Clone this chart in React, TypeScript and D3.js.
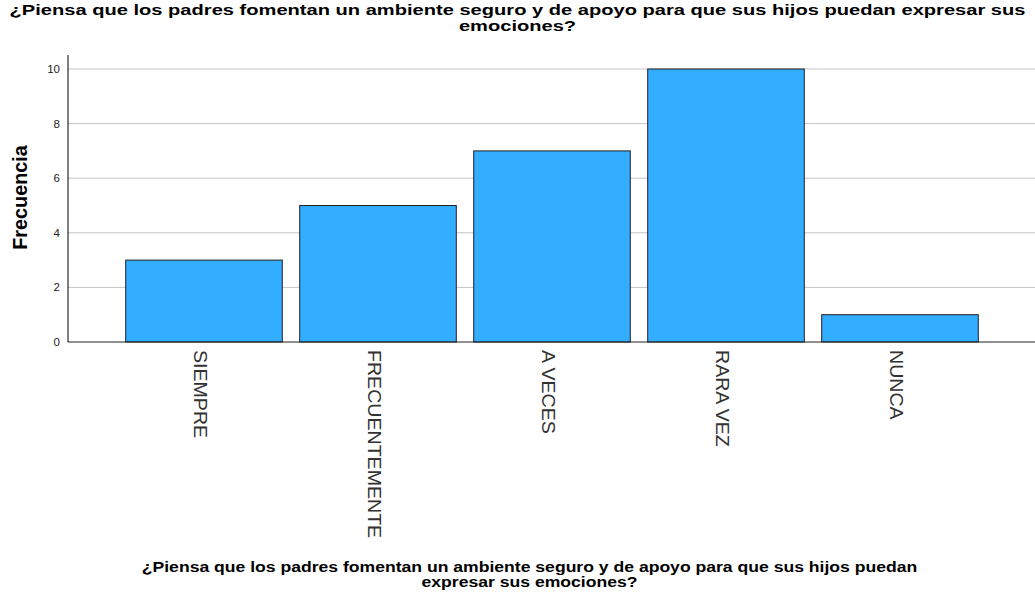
import React from "react";
import * as d3 from "d3";

const categories = ["SIEMPRE", "FRECUENTEMENTE", "A VECES", "RARA VEZ", "NUNCA"];
const values = [3, 5, 7, 10, 1];
const yTicks = [0, 2, 4, 6, 8, 10];
const titleLines = [
  "¿Piensa que los padres fomentan un ambiente seguro y de apoyo para que sus hijos puedan expresar sus",
  "emociones?",
];
const xTitleLines = [
  "¿Piensa que los padres fomentan un ambiente seguro y de apoyo para que sus hijos puedan",
  "expresar sus emociones?",
];
const yTitle = "Frecuencia";

const W = 1035;
const H = 598;

export default function App() {
  const x = d3.scaleBand<string>().domain(categories).range([117, 987]).paddingInner(0.1).paddingOuter(0.05);
  const y = d3.scaleLinear().domain([0, 10]).range([342, 69]);
  const axisLeft = 68;
  const font = "'Liberation Sans', Arial, sans-serif";
  const titleSX = 1.386;
  return (
    <svg width={W} height={H} style={{ position: "absolute", left: 0, top: 0, background: "#fff" }} fontFamily={font}>
      <rect x={0} y={0} width={W} height={H} fill="#fff" />
      {titleLines.map((t, i) => (
        <text
          key={i}
          transform={`translate(517.5,${15 + i * 16}) scale(${titleSX},1)`}
          textAnchor="middle"
          fontSize={14.5}
          fontWeight="bold"
          fill="#000"
        >
          {t}
        </text>
      ))}
      {yTicks.map((t) => (
        <g key={t}>
          {t > 0 && <line x1={axisLeft} x2={W} y1={y(t)} y2={y(t)} stroke="#c4c4c4" strokeWidth={1} />}
          <text x={axisLeft - 8} y={y(t) + 4} textAnchor="end" fontSize={11.5} fill="#222">
            {t}
          </text>
        </g>
      ))}
      {categories.map((c, i) => (
        <rect
          key={c}
          x={x(c)}
          y={y(values[i])}
          width={x.bandwidth()}
          height={y(0) - y(values[i])}
          fill="#33adff"
          stroke="#222"
          strokeWidth={1}
        />
      ))}
      <line x1={axisLeft} x2={W} y1={y(0)} y2={y(0)} stroke="#222" />
      <line x1={axisLeft} x2={axisLeft} y1={55} y2={y(0)} stroke="#000" />
      {categories.map((c) => {
        const cx = (x(c) as number) + x.bandwidth() / 2;
        return (
          <text
            key={c}
            transform={`translate(${cx - 10},350) rotate(90) scale(1,0.9)`}
            fontSize={19.6}
            fill="#333"
            textAnchor="start"
          >
            {c}
          </text>
        );
      })}
      <text transform="translate(27,197.5) rotate(-90)" textAnchor="middle" fontSize={19.8} fontWeight="bold" fill="#000">
        {yTitle}
      </text>
      {xTitleLines.map((t, i) => (
        <text
          key={i}
          transform={`translate(529.5,${572 + i * 15}) scale(1.15,1)`}
          textAnchor="middle"
          fontSize={15.3}
          fontWeight="bold"
          fill="#000"
        >
          {t}
        </text>
      ))}
    </svg>
  );
}
